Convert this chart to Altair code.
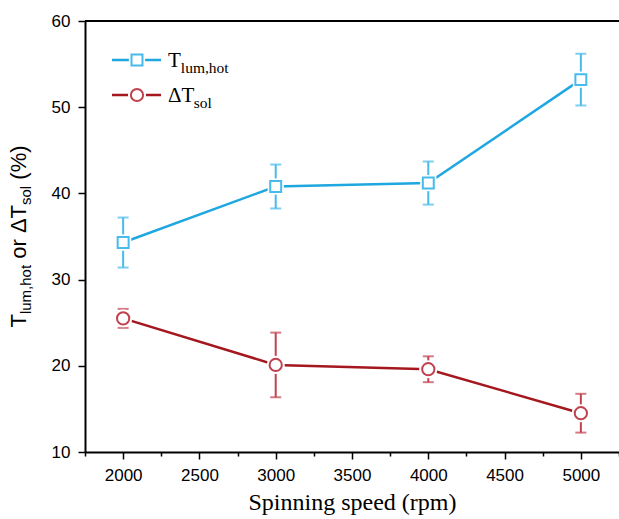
import altair as alt
import pandas as pd

# Spinning speed (rpm) and the two measured quantities with their error bars
speed = [2000, 3000, 4000, 5000]
t_lum_hot = [34.3, 40.8, 41.2, 53.2]
t_lum_hot_err = [2.9, 2.55, 2.5, 3.0]
d_t_sol = [25.5, 20.1, 19.6, 14.5]
d_t_sol_err = [1.1, 3.75, 1.5, 2.25]

x_ticks = list(range(1750, 5251, 250))
y_ticks = [10, 20, 30, 40, 50, 60]

W, H = 534, 431
BLUE_LINE, BLUE_MARK = "#1FA7E0", "#46BBEC"
RED_LINE, RED_MARK = "#A5171F", "#C0424F"
SANS = "Liberation Sans"
SERIF = "Liberation Serif"

lum = pd.DataFrame({
    "speed": speed,
    "val": t_lum_hot,
    "lo": [v - e for v, e in zip(t_lum_hot, t_lum_hot_err)],
    "hi": [v + e for v, e in zip(t_lum_hot, t_lum_hot_err)],
})
sol = pd.DataFrame({
    "speed": speed,
    "val": d_t_sol,
    "lo": [v - e for v, e in zip(d_t_sol, d_t_sol_err)],
    "hi": [v + e for v, e in zip(d_t_sol, d_t_sol_err)],
})

x_enc = alt.X(
    "speed:Q",
    scale=alt.Scale(domain=[1750, 5250], nice=False, zero=False),
    axis=alt.Axis(
        values=x_ticks,
        labelExpr="datum.value % 500 === 0 && datum.value > 1750 ? datum.label : ''",
        tickSize=alt.condition("datum.value % 500 === 0", alt.value(7), alt.value(4)),
        title="Spinning speed (rpm)",
        format="d",
    ),
)
y_scale = alt.Scale(domain=[10, 60], nice=False, zero=False)
y_enc = alt.Y(
    "val:Q",
    scale=y_scale,
    axis=alt.Axis(values=y_ticks, title=None, tickSize=7, labelPadding=8),
)


def series(df, line_color, mark_color, shape, size):
    base = alt.Chart(df)
    bars = base.mark_rule(color=mark_color, strokeWidth=2).encode(
        x=x_enc, y=alt.Y("lo:Q", scale=y_scale), y2="hi:Q"
    )
    cap_lo = base.mark_tick(color=mark_color, orient="horizontal", size=11, thickness=2).encode(
        x=x_enc, y=alt.Y("lo:Q", scale=y_scale)
    )
    cap_hi = base.mark_tick(color=mark_color, orient="horizontal", size=11, thickness=2).encode(
        x=x_enc, y=alt.Y("hi:Q", scale=y_scale)
    )
    line = base.mark_line(color=line_color, strokeWidth=2.5).encode(x=x_enc, y=y_enc)
    halo = base.mark_point(shape=shape, size=size * 2.2, filled=True, color="white", opacity=1).encode(
        x=x_enc, y=y_enc
    )
    pts = base.mark_point(shape=shape, size=size, filled=False, color=mark_color,
                          strokeWidth=2, fill="white", fillOpacity=1, opacity=1).encode(x=x_enc, y=y_enc)
    return [bars, cap_lo, cap_hi, line, halo, pts]


layers = series(lum, BLUE_LINE, BLUE_MARK, "square", 120) + series(sol, RED_LINE, RED_MARK, "circle", 150)

anchor = alt.Chart(pd.DataFrame({"k": [0]}))

# top frame line
layers.append(anchor.mark_rule(color="black", strokeWidth=2).encode(
    x=alt.value(0), x2=alt.value(W), y=alt.value(0)))


def legend_row(y, line_color, mark_color, shape, size):
    out = [
        anchor.mark_rule(color=line_color, strokeWidth=2.5).encode(
            x=alt.value(27), x2=alt.value(76), y=alt.value(y)),
        anchor.mark_point(shape=shape, size=size * 2.2, filled=True, color="white", opacity=1).encode(
            x=alt.value(52), y=alt.value(y)),
        anchor.mark_point(shape=shape, size=size, filled=False, color=mark_color,
                          strokeWidth=2, fill="white", fillOpacity=1, opacity=1).encode(
            x=alt.value(52), y=alt.value(y)),
    ]
    return out


def text_piece(txt, x, y, size, font, angle=0):
    return anchor.mark_text(
        text=txt, font=font, fontSize=size, color="black", align="left",
        baseline="alphabetic", angle=angle,
    ).encode(x=alt.value(x), y=alt.value(y))


LEG_MAIN, LEG_SUB = 21, 15.5
layers += legend_row(39, BLUE_LINE, BLUE_MARK, "square", 120)
layers += legend_row(74, RED_LINE, RED_MARK, "circle", 150)
layers += [
    text_piece("T", 83, 46, LEG_MAIN, SERIF),
    text_piece("lum,hot", 83 + 0.611 * LEG_MAIN, 52, LEG_SUB, SERIF),
    text_piece("ΔT", 83, 81, LEG_MAIN, SERIF),
    text_piece("sol", 83 + 1.223 * LEG_MAIN, 87, LEG_SUB, SERIF),
]

# rotated y-axis title with subscripts, written bottom to top
YT_MAIN, YT_SUB = 22, 15
pieces = [
    ("T", YT_MAIN, False, 0.611 * YT_MAIN),
    ("lum,hot", YT_SUB, True, 3.279 * YT_SUB + 0.278 * YT_MAIN),
    ("or ΔT", YT_MAIN, False, 2.446 * YT_MAIN),
    ("sol", YT_SUB, True, 1.278 * YT_SUB + 0.278 * YT_MAIN),
    ("(%)", YT_MAIN, False, 1.555 * YT_MAIN),
]
total = sum(p[3] for p in pieces)
pos = H / 2 + total / 2
for txt, sz, sub, w in pieces:
    layers.append(text_piece(txt, -59 + (5 if sub else 0), pos, sz, SANS, angle=270))
    pos -= w

chart = alt.layer(*layers).properties(
    width=W, height=H,
    autosize=alt.AutoSizeParams(type="none"),
    padding={"left": 85, "top": 21, "right": 0, "bottom": 519 - 21 - H},
).configure_view(stroke=None).configure_axis(
    domainColor="black", domainWidth=2, tickColor="black", tickWidth=1.5,
    labelFont=SANS, labelFontSize=17, labelColor="black", grid=False,
    titleFont=SERIF, titleFontSize=24, titleFontWeight="normal", titleColor="black",
).configure_axisX(labelPadding=8, titlePadding=7)

chart.save("out.html", embed_options={"renderer": "svg", "actions": False})
